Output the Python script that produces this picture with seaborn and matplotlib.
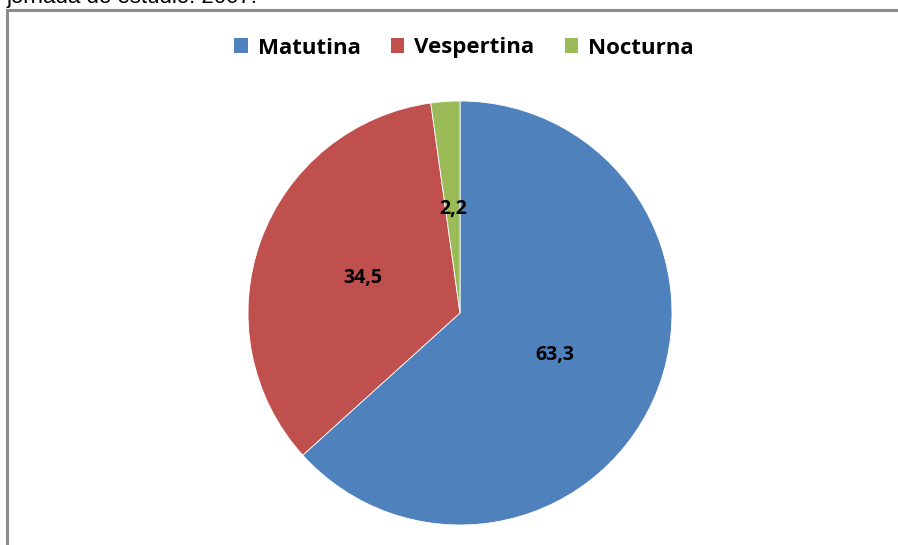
import matplotlib
matplotlib.use('Agg')
import matplotlib.pyplot as plt
from matplotlib.patches import Rectangle, Patch
import seaborn as sns

# data
jornadas = ['Matutina', 'Vespertina', 'Nocturna']
porcentajes = [63.3, 34.5, 2.2]
colores = sns.color_palette(['#4F81BD', '#C0504D', '#9BBB59'])
titulo = 'jornada de estudio. 2007.'

sns.set_theme(style='white')
plt.rcParams['font.family'] = ['Open Sans', 'DejaVu Sans']
plt.rcParams['text.color'] = 'black'

W, H = 898, 545
fig = plt.figure(figsize=(W / 100, H / 100), dpi=100)
fig.patch.set_facecolor('white')

# pie axes placed by pixel: centre (460, 313), radius 212
cx, cy, r = 460, 313, 212
ax = fig.add_axes([(cx - r) / W, (H - cy - r) / H, 2 * r / W, 2 * r / H])
wedges, txts, autotxts = ax.pie(
    porcentajes, colors=colores, startangle=90, counterclock=False,
    radius=1, pctdistance=0.49,
    autopct=lambda p: f'{p:.1f}'.replace('.', ','),
    wedgeprops=dict(edgecolor='white', linewidth=0.6),
    textprops=dict(fontsize=14, fontweight='bold', color='black'))
ax.set_xlim(-1, 1)
ax.set_ylim(-1, 1)
ax.set_aspect('equal')
ax.axis('off')

# legend across the top
handles = [Patch(facecolor=c, edgecolor='none') for c in colores]
leg = fig.legend(handles, jornadas, loc='center', ncol=3, frameon=False,
                 bbox_to_anchor=(464 / W, 1 - 48 / H),
                 prop=dict(size=16, weight='bold'),
                 handlelength=0.62, handleheight=0.62, handletextpad=0.45,
                 columnspacing=1.35)
for t in leg.get_texts():
    t.set_color('black')

# chart frame (grey, running off the right and bottom)
fig.patches.append(Rectangle((7 / W, -0.05), 1.0, 1 - 10 / H + 0.05,
                             transform=fig.transFigure, fill=False,
                             edgecolor='#8c8c8c', linewidth=2.2))

# clipped caption above the frame
fig.text(7 / W, 1 - 3 / H, titulo, fontsize=16, va='baseline', ha='left',
         family=['Liberation Sans', 'DejaVu Sans'], color='black')

fig.savefig('out.png', dpi=100)
